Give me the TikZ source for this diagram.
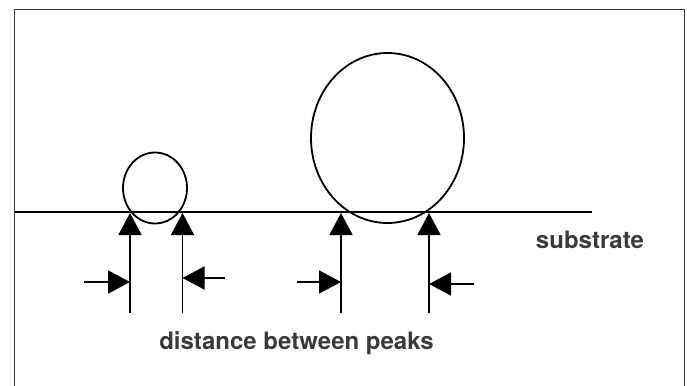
\documentclass[tikz,border=0pt]{standalone}
\usepackage{fontspec}
\setmainfont{TeX Gyre Heros}
\usetikzlibrary{arrows.meta}
\definecolor{labelgray}{HTML}{3A3A3A}
\tikzset{
  peakline/.style={black, line width=1.8pt, -{Triangle[length=22pt,width=23pt]}},
  gapline/.style={black, line width=1.8pt, -{Triangle[length=22pt,width=23pt]}},
  labeltext/.style={text=labelgray, font=\fontsize{24}{28}\selectfont\bfseries, inner sep=0pt}
}
\begin{document}
\begin{tikzpicture}[x=1pt,y=1pt]
\useasboundingbox (0,0) rectangle (687,-385);
\draw [labelgray, line width=1.3pt] (14.5,-395) -- (14.5,-9.7) -- (684.3,-9.7) -- (684.3,-395);
% substrate and the two drops
\draw [black, line width=1.8pt] (14.5,-212) -- (592,-212);
\draw [black, line width=1.8pt] (155,-188) ellipse (32 and 35.5);
\draw [black, line width=1.8pt] (387.5,-138) ellipse (76.5 and 85);
% peak arrows
\coordinate (p1) at (130,-213);
\coordinate (p2) at (182.5,-213);
\coordinate (p3) at (341,-213);
\coordinate (p4) at (429,-213);
\coordinate (q1) at (130,-313);
\coordinate (q2) at (182.5,-313);
\coordinate (q3) at (341,-313);
\coordinate (q4) at (429,-313);
\draw [peakline] (q1) -- (p1);
\draw [peakline] (q2) -- (p2);
\draw [peakline] (q3) -- (p3);
\draw [peakline] (q4) -- (p4);
% gap arrows
\coordinate (g1) at (84,-282);
\coordinate (h1) at (130,-282);
\coordinate (g2) at (224.5,-278);
\coordinate (h2) at (182.5,-278);
\coordinate (g3) at (297,-282);
\coordinate (h3) at (341,-282);
\coordinate (g4) at (474,-284);
\coordinate (h4) at (429,-284);
\draw [gapline] (g1) -- (h1);
\draw [gapline] (g2) -- (h2);
\draw [gapline] (g3) -- (h3);
\draw [gapline] (g4) -- (h4);
% labels
\node [labeltext] (substrate) at (590,-240) {substrate};
\node [labeltext] (distance) at (296.5,-343) {distance between peaks};
\end{tikzpicture}
\end{document}
